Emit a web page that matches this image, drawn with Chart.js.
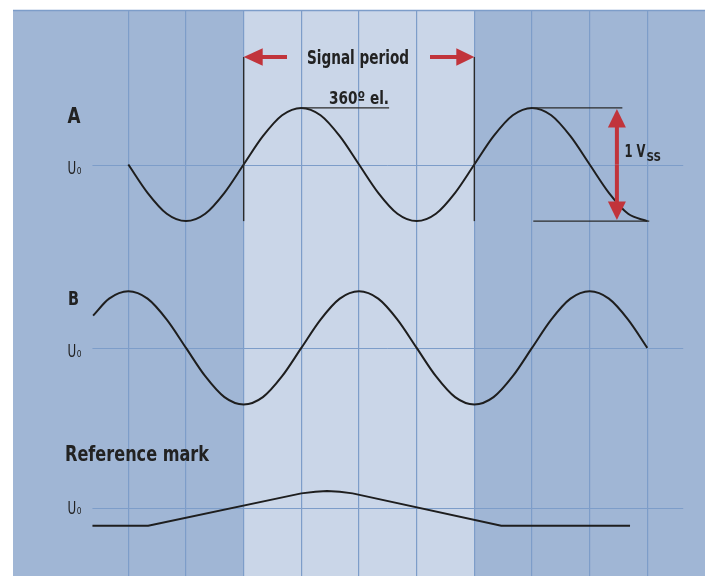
<!DOCTYPE html>
<html>
<head>
<meta charset="utf-8">
<script src="https://cdn.jsdelivr.net/npm/chart.js@4"></script>
<style>
  body { margin: 0; background: #fff; }
  canvas { display: block; }
</style>
</head>
<body>
<canvas id="myChart" width="709" height="576"></canvas>
<script>
// phase in electrical degrees, signal in units of the amplitude
const phaseA = [0, 30, 60, 90, 120, 150, 180, 210, 240, 270, 300, 330, 360, 390, 420, 450, 480, 510, 540, 570, 600, 630, 660, 690, 720, 750, 780, 810];
const signalA = [0, -0.5, -0.87, -1, -0.87, -0.5, 0, 0.5, 0.87, 1, 0.87, 0.5, 0, -0.5, -0.87, -1, -0.87, -0.5, 0, 0.5, 0.87, 1, 0.87, 0.5, 0, -0.5, -0.87, -1];

const phaseB = [-55, -30, 0, 30, 60, 90, 120, 150, 180, 210, 240, 270, 300, 330, 360, 390, 420, 450, 480, 510, 540, 570, 600, 630, 660, 690, 720, 750, 780, 810];
const signalB = [0.57, 0.87, 1, 0.87, 0.5, 0, -0.5, -0.87, -1, -0.87, -0.5, 0, 0.5, 0.87, 1, 0.87, 0.5, 0, -0.5, -0.87, -1, -0.87, -0.5, 0, 0.5, 0.87, 1, 0.87, 0.5, 0];

const phaseRef = [-56, 31, 270, 292, 310, 330, 350, 582, 783];
const signalRef = [-0.31, -0.31, 0.26, 0.29, 0.30, 0.29, 0.26, -0.31, -0.31];

const periodStart = 180;
const periodEnd = 540;
const gridStep = 90;

// where each trace sits on the y axis
const offsetA = 7.27;
const offsetB = 4.03;
const offsetRef = 1.2;

const chartBg = '#a0b6d5';
const periodBg = '#cad6e8';
const gridColor = '#7d9dc9';
const red = '#c1343b';
const ink = '#222222';
const narrow = "'Liberation Sans Narrow', 'DejaVu Sans Condensed', sans-serif";

const toPoints = (xs, ys, off) => xs.map((v, i) => ({x: v, y: ys[i] + off}));

// draw text squeezed/stretched to a given width
const fitText = (ctx, str, x, y, font, width) => {
    ctx.font = font;
    const w = ctx.measureText(str).width;
    ctx.save();
    ctx.translate(x, y);
    ctx.scale(width / w, 1);
    ctx.fillText(str, 0, 0);
    ctx.restore();
}

const arrow = (ctx, x0, y0, x1, y1, headLen, headHalf, shaft) => {
    const ang = Math.atan2(y1 - y0, x1 - x0);
    const len = Math.hypot(x1 - x0, y1 - y0);
    ctx.save();
    ctx.translate(x0, y0);
    ctx.rotate(ang);
    ctx.fillRect(0, -shaft / 2, len - headLen + 1, shaft);
    ctx.beginPath();
    ctx.moveTo(len, 0);
    ctx.lineTo(len - headLen, -headHalf);
    ctx.lineTo(len - headLen, headHalf);
    ctx.closePath();
    ctx.fill();
    ctx.restore();
}

const line = (ctx, x0, y0, x1, y1) => {
    ctx.beginPath();
    ctx.moveTo(x0, y0);
    ctx.lineTo(x1, y1);
    ctx.stroke();
}

const backdrop = {
    id: 'backdrop',
    beforeDraw(chart) {
        const {ctx, chartArea: a, scales: {x}} = chart;
        ctx.save();
        ctx.fillStyle = chartBg;
        ctx.fillRect(a.left, a.top, a.right - a.left, a.bottom - a.top);
        const x0 = x.getPixelForValue(periodStart);
        const x1 = x.getPixelForValue(periodEnd);
        ctx.fillStyle = periodBg;
        ctx.fillRect(x0, a.top + 1, x1 - x0, a.bottom - a.top);
        ctx.strokeStyle = gridColor;
        ctx.lineWidth = 1.5;
        line(ctx, a.left, a.top + 0.5, a.right, a.top + 0.5);
        ctx.restore();
    },
    beforeDatasetsDraw(chart) {
        // U0 reference lines
        const {ctx, scales: {x, y}} = chart;
        ctx.save();
        ctx.strokeStyle = gridColor;
        ctx.lineWidth = 1;
        [offsetA, offsetB, offsetRef].forEach(off => {
            const py = Math.round(y.getPixelForValue(off)) + 0.5;
            line(ctx, x.getPixelForValue(-56), py, x.getPixelForValue(866), py);
        });
        ctx.restore();
    },
    afterDatasetsDraw(chart) {
        const {ctx, scales: {x, y}} = chart;
        const peakA = y.getPixelForValue(offsetA + 1);
        const lowA = y.getPixelForValue(offsetA - 1);
        const xs = x.getPixelForValue(periodStart);
        const xe = x.getPixelForValue(periodEnd);
        ctx.save();

        // period marker lines
        ctx.strokeStyle = '#2a2a2a';
        ctx.lineWidth = 1.4;
        line(ctx, xs, 57, xs, lowA);
        line(ctx, xe, 57, xe, lowA);
        // underline of 360 el. from the peak
        line(ctx, x.getPixelForValue(270), peakA, x.getPixelForValue(407), peakA);
        // amplitude lines on the right
        line(ctx, x.getPixelForValue(630), peakA, x.getPixelForValue(771), peakA);
        line(ctx, x.getPixelForValue(632), lowA, x.getPixelForValue(813), lowA);

        // red arrows
        ctx.fillStyle = red;
        arrow(ctx, 287, 57, xs, 57, 19, 8.7, 4);
        arrow(ctx, 430, 57, xe, 57, 18, 8.7, 4);
        const xv = x.getPixelForValue(762.5);
        const mid = (peakA + lowA) / 2;
        arrow(ctx, xv, mid, xv, peakA + 1, 18.5, 9, 4);
        arrow(ctx, xv, mid, xv, lowA - 1, 18.5, 9, 4);

        // texts
        ctx.fillStyle = ink;
        ctx.textBaseline = 'alphabetic';
        fitText(ctx, 'Signal period', 307, 64, `bold 19px ${narrow}`, 102);
        fitText(ctx, '360º el.', 329, 104, `bold 17px ${narrow}`, 60);
        fitText(ctx, 'A', 67.5, 122.7, `bold 21px ${narrow}`, 13);
        fitText(ctx, 'B', 68, 305, `bold 19px ${narrow}`, 11);
        fitText(ctx, 'Reference mark', 65, 460.7, `bold 21.5px ${narrow}`, 144);
        fitText(ctx, '1 V', 624.5, 157, `bold 18.5px ${narrow}`, 21);
        fitText(ctx, 'SS', 646.5, 161, `bold 13px ${narrow}`, 14.5);
        [174, 356.5, 513.5].forEach(base => {
            fitText(ctx, 'U', 67.5, base, `18px ${narrow}`, 8.7);
            fitText(ctx, '0', 76.8, base, `9px ${narrow}`, 4.8);
        });
        ctx.restore();
    }
};

const traceStyle = {
    borderColor: '#1e1e1e',
    borderWidth: 2,
    pointRadius: 0,
    fill: false
};

new Chart(document.getElementById('myChart'), {
    type: 'line',
    data: {
        datasets: [
            {label: 'A', data: toPoints(phaseA, signalA, offsetA), cubicInterpolationMode: 'monotone', ...traceStyle},
            {label: 'B', data: toPoints(phaseB, signalB, offsetB), cubicInterpolationMode: 'monotone', ...traceStyle},
            {label: 'Reference mark', data: toPoints(phaseRef, signalRef, offsetRef), tension: 0, ...traceStyle}
        ]
    },
    options: {
        responsive: false,
        devicePixelRatio: 1,
        animation: false,
        layout: {padding: {left: 13, top: 10, right: 4, bottom: 0}},
        plugins: {legend: {display: false}, tooltip: {enabled: false}},
        scales: {
            x: {
                type: 'linear',
                min: -180,
                max: 900,
                ticks: {display: false, stepSize: gridStep},
                border: {display: false},
                grid: {
                    drawTicks: false,
                    tickLength: 0,
                    lineWidth: 1.2,
                    color: c => (c.tick && c.tick.value >= 0 && c.tick.value <= 810) ? gridColor : 'rgba(0,0,0,0)'
                }
            },
            y: {
                type: 'linear',
                display: false,
                min: 0,
                max: 10
            }
        }
    },
    plugins: [backdrop]
});
</script>
</body>
</html>
